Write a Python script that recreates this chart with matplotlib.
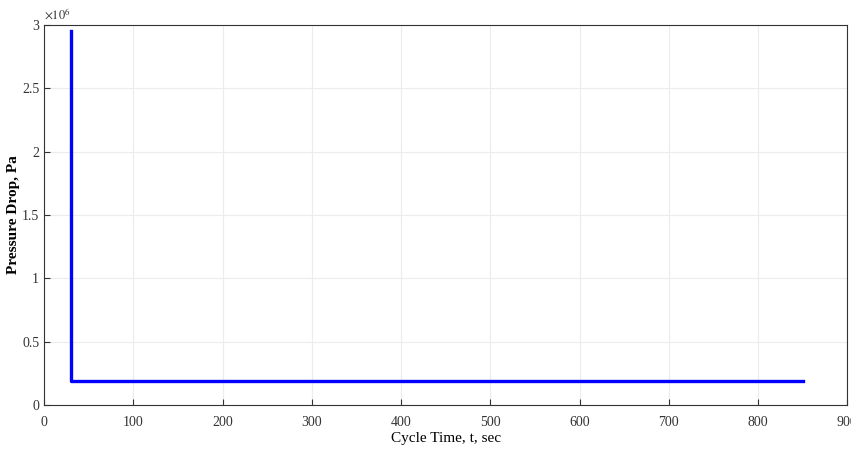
import matplotlib.pyplot as plt

# dados
cycle_time = [30, 30, 850]
pressure_drop = [2.95e6, 0.19e6, 0.19e6]
x_ticks = [0, 100, 200, 300, 400, 500, 600, 700, 800, 900]
y_ticks = [0, 0.5e6, 1e6, 1.5e6, 2e6, 2.5e6, 3e6]

plt.rcParams['font.family'] = ['Liberation Serif', 'DejaVu Serif']
plt.rcParams['mathtext.fontset'] = 'stix'

fig = plt.figure(figsize=(8.51, 4.53), dpi=100)
ax = fig.add_axes([0.0517, 0.106, 0.944, 0.839])

ax.plot(cycle_time, pressure_drop, color='#0000ff', linewidth=2.4)

ax.set_xlim(0, 900)
ax.set_ylim(0, 3e6)
ax.set_xticks(x_ticks)
ax.set_yticks(y_ticks)
ax.set_yticklabels(['0', '0.5', '1', '1.5', '2', '2.5', '3'])
ax.text(0.0, 1.005, r'$\times10^{6}$', transform=ax.transAxes,
        fontsize=9, ha='left', va='bottom', color='#333333')

ax.grid(True, color='#ececec', linewidth=0.8)
ax.tick_params(direction='in', labelsize=10, length=4, colors='#333333')
ax.tick_params(axis='x', pad=8)
for s in ax.spines.values():
    s.set_color('#333333')
    s.set_linewidth(0.8)

ax.set_xlabel('Cycle Time, t, sec', fontsize=11, labelpad=2)
ax.set_ylabel('Pressure Drop, Pa', fontsize=11, fontweight='bold', labelpad=1)

fig.savefig('out.png', dpi=100)
